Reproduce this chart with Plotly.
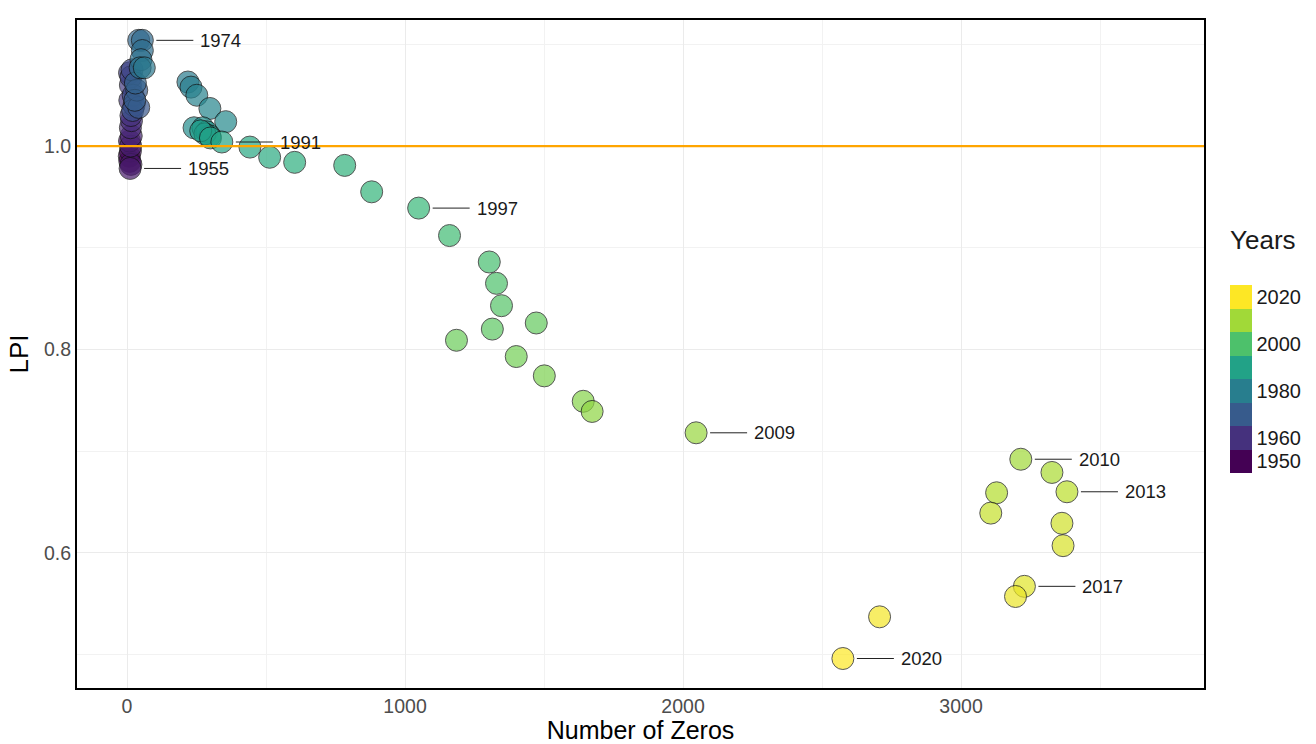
import plotly.graph_objects as go
from plotly.colors import sample_colorscale

years = list(range(1950, 2021))
zeros = [8, 10, 12, 9, 14, 11, 13, 15, 12, 16, 14, 10, 12, 9, 14, 18, 22, 25, 20, 42, 35, 28, 30,
         42, 55, 55, 50, 47, 62,
         219, 230, 251, 298, 355, 241, 273, 287, 298, 280, 265, 300,
         341, 442, 513, 603, 783, 880,
         1049, 1160, 1303, 1329, 1347, 1314, 1472, 1185, 1400, 1501, 1641, 1673, 2047,
         3215, 3327, 3128, 3381, 3107, 3363, 3367, 3228, 3196, 2707, 2575]
lpi = [0.990, 0.985, 0.995, 1.005, 0.982, 0.978, 1.000, 1.010, 1.018, 1.025, 1.030, 1.045, 1.060,
       1.072, 1.068, 1.075, 1.050, 1.040, 1.035, 1.038, 1.055, 1.045, 1.062,
       1.104, 1.104, 1.094, 1.085, 1.077, 1.077,
       1.063, 1.058, 1.050, 1.037, 1.024, 1.018, 1.018, 1.014, 1.010, 1.012, 1.015, 1.008,
       1.004, 0.999, 0.989, 0.984, 0.981, 0.955,
       0.939, 0.912, 0.886, 0.865, 0.843, 0.820, 0.826, 0.809, 0.793, 0.774, 0.749, 0.739, 0.718,
       0.692, 0.679, 0.659, 0.660, 0.639, 0.629, 0.607, 0.567, 0.557, 0.537, 0.496]
label_years = [1955, 1974, 1991, 1997, 2009, 2010, 2013, 2017, 2020]
ref_level = 1.0
cbar_ticks = [1950, 1960, 1980, 2000, 2020]
x_ticks = [0, 1000, 2000, 3000]
y_ticks = [0.6, 0.8, 1.0]

FONT = "Liberation Sans"
fig = go.Figure()

# reference line as a trace on a hidden overlay x-axis spanning the full width (drawn under points)
fig.add_trace(go.Scatter(x=[0, 1], y=[ref_level, ref_level], xaxis="x2", yaxis="y", mode="lines",
                         line=dict(color="#FFA500", width=2.2), showlegend=False,
                         hoverinfo="skip"))

fig.add_trace(go.Scatter(
    x=zeros, y=lpi, mode="markers",
    marker=dict(size=22, color=years, colorscale="Viridis", cmin=1950, cmax=2020,
                opacity=0.7, line=dict(color="#111111", width=1), showscale=False),
    showlegend=False, hoverinfo="x+y+text", text=[str(y) for y in years]))

# stepped colorbar
centers = list(range(1950, 2021, 10))
cols = sample_colorscale("Viridis", [(c - 1950) / 70 for c in centers])
n = len(centers)
cs = []
for i, c in enumerate(cols):
    cs.append([i / n, c])
    cs.append([(i + 1) / n, c])
fig.add_trace(go.Scatter(
    x=[None], y=[None], mode="markers", showlegend=False, hoverinfo="skip",
    marker=dict(color=[1945, 2025], cmin=1945, cmax=2025, colorscale=cs, showscale=True,
                colorbar=dict(thickness=22, lenmode="pixels", len=188, y=0.4626, yanchor="middle",
                              x=1.023, xanchor="left", xpad=0, ypad=0, outlinewidth=0,
                              tickvals=cbar_ticks, ticks="",
                              tickfont=dict(size=20, color="#1a1a1a", family=FONT)))))

for ly in label_years:
    i = years.index(ly)
    fig.add_shape(type="line", xref="x", yref="y", xsizemode="pixel", xanchor=zeros[i],
                  x0=14, x1=51, y0=lpi[i], y1=lpi[i], line=dict(color="#222222", width=1))
    fig.add_annotation(x=zeros[i], y=lpi[i], text=str(ly), showarrow=False, xanchor="left",
                       yanchor="middle", xshift=56, font=dict(size=18.5, color="#1a1a1a",
                                                              family=FONT))

fig.add_annotation(xref="paper", yref="paper", x=1.021, y=0.645, text="Years", showarrow=False,
                   xanchor="left", yanchor="bottom",
                   font=dict(size=26, color="#1a1a1a", family=FONT))

axis_common = dict(showline=True, linecolor="black", linewidth=2, mirror=True, ticks="",
                   gridcolor="#ebebeb", gridwidth=1, zeroline=False, automargin=False,
                   tickfont=dict(size=19.5, color="#4d4d4d", family=FONT))

fig.update_xaxes(range=[-180, 3874], tickvals=x_ticks, title_text="Number of Zeros",
                 title_standoff=9, title_font=dict(size=25, color="black", family=FONT),
                 minor=dict(tickvals=[500, 1500, 2500, 3500], showgrid=True, gridcolor="#f2f2f2",
                            gridwidth=1),
                 **axis_common)
fig.update_yaxes(range=[0.467, 1.124], tickvals=y_ticks, tickformat=".1f", title_text="LPI",
                 title_standoff=8, title_font=dict(size=26, color="black", family=FONT),
                 minor=dict(tickvals=[0.5, 0.7, 0.9, 1.1], showgrid=True, gridcolor="#f2f2f2",
                            gridwidth=1),
                 **axis_common)

fig.update_layout(width=1316, height=744, margin=dict(l=77, r=112, t=20, b=56),
                  plot_bgcolor="white", paper_bgcolor="white",
                  font=dict(family=FONT),
                  xaxis2=dict(overlaying="x", range=[0, 1], visible=False, showgrid=False,
                              zeroline=False, fixedrange=True))

fig.write_html("out.html")
